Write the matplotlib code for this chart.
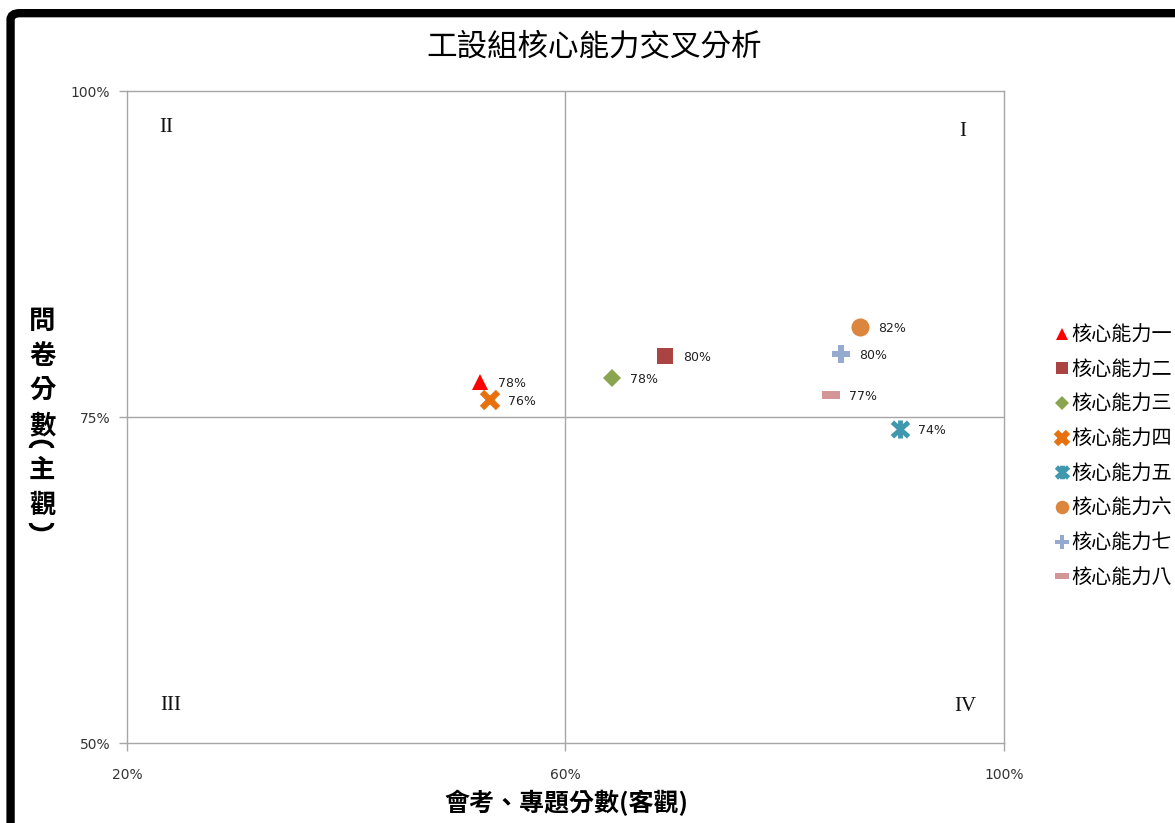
import matplotlib
matplotlib.use("Agg")
import matplotlib.pyplot as plt
from matplotlib.path import Path
from matplotlib.patches import FancyBboxPatch, Arc
from matplotlib.ticker import FixedLocator, FuncFormatter

plt.rcParams['font.family'] = ['Noto Sans CJK TC', 'DejaVu Sans']

# Data: objective score (x) vs. questionnaire score (y)
abilities = ['核心能力一', '核心能力二', '核心能力三', '核心能力四',
             '核心能力五', '核心能力六', '核心能力七', '核心能力八']
objective = [0.522, 0.691, 0.642, 0.531, 0.905, 0.869, 0.851, 0.842]
subjective = [0.777, 0.797, 0.780, 0.763, 0.741, 0.819, 0.798, 0.767]

x_ticks = [0.20, 0.60, 1.00]
y_ticks = [0.50, 0.75, 1.00]
x_mid, y_mid = 0.60, 0.75

quadrants = ['I', 'II', 'III', 'IV']
quad_pos = [(0.962, 0.969), (0.236, 0.972), (0.240, 0.529), (0.965, 0.528)]

# Vertical y-axis title, one glyph per row (figure y positions)
ylabel_chars = ['問', '卷', '分', '數', '主', '觀']
ylabel_rows = [0.609, 0.567, 0.526, 0.483, 0.428, 0.386]

# Custom marker shapes
star_path = Path([(0, -1), (0, 1), (-0.9, -0.8), (0.9, 0.8), (-0.9, 0.8), (0.9, -0.8)],
                 [Path.MOVETO, Path.LINETO, Path.MOVETO, Path.LINETO, Path.MOVETO, Path.LINETO])
dash_path = Path([(-1, -0.45), (1, -0.45), (1, 0.45), (-1, 0.45), (-1, -0.45)],
                 [Path.MOVETO, Path.LINETO, Path.LINETO, Path.LINETO, Path.CLOSEPOLY])

styles = [
    dict(marker='^', color='#FF0000', ms=12, mew=0),
    dict(marker='s', color='#A94442', ms=12, mew=0),
    dict(marker='D', color='#8AA54F', ms=9, mew=0),
    dict(marker='x', color='#E8710F', ms=12, mew=4.5),
    dict(marker=star_path, color='#3F98AE', ms=13, mew=3.5),
    dict(marker='o', color='#DC853E', ms=13, mew=0),
    dict(marker='P', color='#94AACF', ms=13, mew=0),
    dict(marker=dash_path, color='#D49596', ms=13, mew=0),
]

fig = plt.figure(figsize=(11.75, 8.23), dpi=100)

# Outer frame
frame = FancyBboxPatch((0.009, -0.05), 1.1, 1.034, boxstyle="round,pad=0,rounding_size=0.008",
                       transform=fig.transFigure, facecolor='white', edgecolor='black',
                       linewidth=6, zorder=-10)
fig.patches.append(frame)

ax = fig.add_axes([0.108, 0.0972, 0.7465, 0.7922])
ax.set_xlim(0.20, 1.00)
ax.set_ylim(0.50, 1.00)

for sp in ax.spines.values():
    sp.set_color('#A6A6A6')
    sp.set_linewidth(1)

ax.axvline(x_mid, color='#A6A6A6', lw=1, zorder=1)
ax.axhline(y_mid, color='#A6A6A6', lw=1, zorder=1)

for name, xv, yv, st in zip(abilities, objective, subjective, styles):
    ax.plot([xv], [yv], linestyle='none', marker=st['marker'], color=st['color'],
            markersize=st['ms'], markeredgewidth=st['mew'], label=name, zorder=3)
    ax.annotate(f"{yv:.0%}", (xv, yv), xytext=(13, -1), textcoords='offset points',
                fontsize=9, color='#222222', va='center', ha='left',
                family=['DejaVu Sans'])

for lab, (qx, qy) in zip(quadrants, quad_pos):
    ax.text(qx, qy, lab, fontsize=15, family='Liberation Serif', ha='center', va='center',
            color='#111111')

ax.xaxis.set_major_locator(FixedLocator(x_ticks))
ax.yaxis.set_major_locator(FixedLocator(y_ticks))
pct = FuncFormatter(lambda v, p: f"{v:.0%}")
ax.xaxis.set_major_formatter(pct)
ax.yaxis.set_major_formatter(pct)
ax.tick_params(axis='both', colors='#A6A6A6', labelcolor='#333333', labelsize=10,
               length=6, width=1, direction='out')
ax.tick_params(axis='x', pad=12)
ax.tick_params(axis='y', pad=6)
for t in ax.get_xticklabels() + ax.get_yticklabels():
    t.set_family(['DejaVu Sans'])

fig.text(0.506, 0.943, '工設組核心能力交叉分析', ha='center', va='center', fontsize=22)
fig.text(0.482, 0.024, '會考、專題分數(客觀)', ha='center', va='center', fontsize=18,
         fontweight='bold')
for ch, ry in zip(ylabel_chars, ylabel_rows):
    fig.text(0.036, ry, ch, ha='center', va='center', fontsize=19, fontweight='bold')

# Vertical-form brackets around 主觀 (drawn in inches from the lower-left corner)
fig.patches.append(Arc((0.415, 3.75), 0.22, 0.13, theta1=0, theta2=180, lw=2.6,
                       color='black', transform=fig.dpi_scale_trans))
fig.patches.append(Arc((0.415, 3.00), 0.22, 0.13, theta1=180, theta2=360, lw=2.6,
                       color='black', transform=fig.dpi_scale_trans))

leg = ax.legend(loc='upper left', bbox_to_anchor=(1.05, 0.654), frameon=False,
                fontsize=14.5, handlelength=0.6, handletextpad=0.15, labelspacing=0.68,
                borderaxespad=0, markerscale=0.75)

fig.savefig('out.png', dpi=100)
